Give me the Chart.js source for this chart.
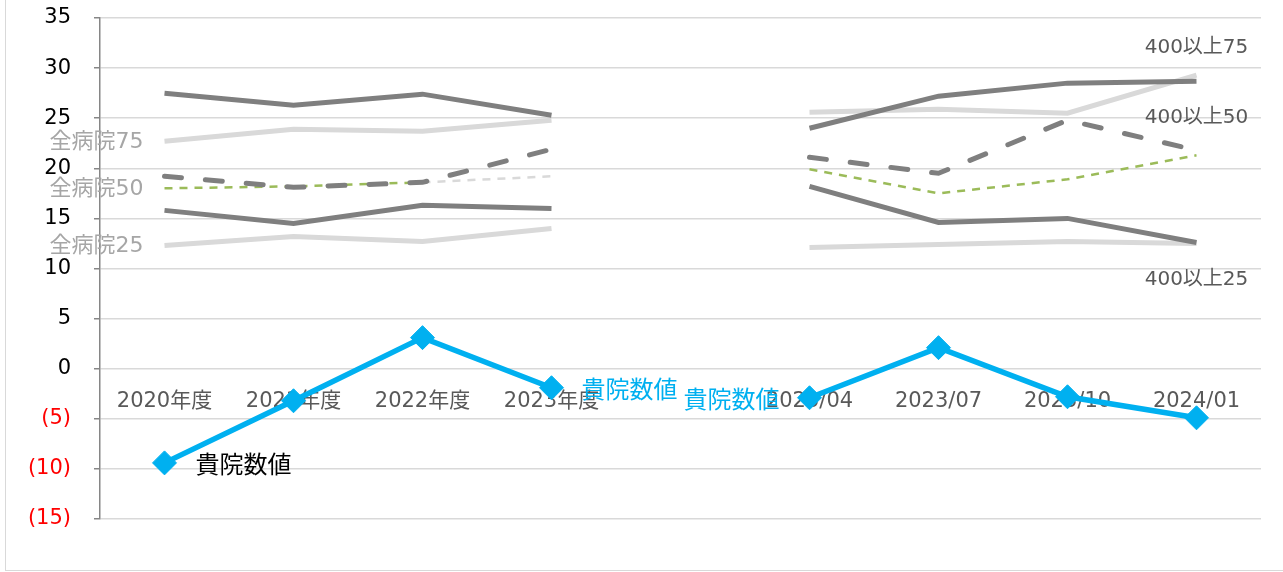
<!DOCTYPE html>
<html>
<head>
<meta charset="utf-8">
<script src="https://cdn.jsdelivr.net/npm/chart.js@4"></script>
<style>
  html, body { margin: 0; padding: 0; background: #fff; }
  #wrap { position: relative; width: 1283px; height: 572px; overflow: hidden; }
  #frame { position: absolute; left: 5px; top: -2px; width: 1300px; height: 573px; border: 1px solid #d9d9d9; box-sizing: border-box; }
  canvas { position: absolute; left: 0; top: 0; }
</style>
</head>
<body>
<div id="wrap">
  <div id="frame"></div>
  <canvas id="myChart" width="1283" height="572"></canvas>
</div>
<script>
// カテゴリ (空欄で年度と四半期を分ける)
const categories = ['2020年度', '2021年度', '2022年度', '2023年度', '', '2023/04', '2023/07', '2023/10', '2024/01'];
const yTicks = [35, 30, 25, 20, 15, 10, 5, 0, -5, -10, -15];

const kiin      = [-9.4, -3.2, 3.1, -1.9, null, -2.9, 2.1, -2.8, -4.9];
const over400_75 = [27.5, 26.3, 27.4, 25.3, null, 24.0, 27.2, 28.5, 28.7];
const all_75    = [22.7, 23.9, 23.7, 24.8, null, 25.6, 25.9, 25.5, 29.3];
const over400_50 = [19.2, 18.1, 18.6, 21.9, null, 21.1, 19.5, 24.8, 21.8];
const all_50    = [18.0, 18.2, 18.6, 19.2, null, 19.9, 17.5, 18.9, 21.3];
const over400_25 = [15.8, 14.5, 16.3, 16.0, null, 18.2, 14.6, 15.0, 12.6];
const all_25    = [12.3, 13.2, 12.7, 14.0, null, 12.1, 12.4, 12.7, 12.5];

const DARK = '#7f7f7f';
const LIGHT = '#d9d9d9';
const BLUE = '#00b0f0';
const GREEN = '#9bbb59';

// 系列名ラベル (データ点の横に置く)
const seriesLabels = [
  { ds: 0, idx: 0, text: '貴院数値', color: '#000', font: '24px "Noto Sans CJK JP"', dx: 31, dy: 1, align: 'left' },
  { ds: 0, idx: 3, text: '貴院数値', color: BLUE, font: '24px "Noto Sans CJK JP"', dx: 30, dy: 1, align: 'left' },
  { ds: 0, idx: 5, text: '貴院数値', color: BLUE, font: '24px "Noto Sans CJK JP"', dx: -30, dy: 1, align: 'right' },
  { ds: 2, idx: 0, text: '全病院75', color: '#a6a6a6', font: '22px "DejaVu Sans", "Noto Sans CJK JP"', dx: -21, dy: 1, align: 'right' },
  { ds: 4, idx: 0, text: '全病院50', color: '#a6a6a6', font: '22px "DejaVu Sans", "Noto Sans CJK JP"', dx: -21, dy: 1, align: 'right' },
  { ds: 6, idx: 0, text: '全病院25', color: '#a6a6a6', font: '22px "DejaVu Sans", "Noto Sans CJK JP"', dx: -21, dy: 1, align: 'right' },
  { ds: 1, idx: 8, text: '400以上75', color: '#595959', font: '20px "DejaVu Sans", "Noto Sans CJK JP"', dx: 0, dy: -33, align: 'center' },
  { ds: 3, idx: 8, text: '400以上50', color: '#595959', font: '20px "DejaVu Sans", "Noto Sans CJK JP"', dx: 0, dy: -32, align: 'center' },
  { ds: 5, idx: 8, text: '400以上25', color: '#595959', font: '20px "DejaVu Sans", "Noto Sans CJK JP"', dx: 0, dy: 37, align: 'center' }
];

const labelPlugin = {
  id: 'seriesLabels',
  afterDatasetsDraw(chart) {
    const ctx = chart.ctx;
    ctx.save();
    ctx.textBaseline = 'middle';
    seriesLabels.forEach(l => {
      const pt = chart.getDatasetMeta(l.ds).data[l.idx];
      ctx.font = l.font;
      ctx.fillStyle = l.color;
      ctx.textAlign = l.align;
      ctx.fillText(l.text, pt.x + l.dx, pt.y + l.dy);
    });
    ctx.restore();
  }
};

function line(label, data, color, width, extra) {
  return Object.assign({
    label: label,
    data: data,
    borderColor: color,
    backgroundColor: color,
    borderWidth: width,
    pointRadius: 0,
    pointHoverRadius: 0,
    tension: 0,
    spanGaps: false,
    fill: false
  }, extra || {});
}

const ctx = document.getElementById('myChart').getContext('2d');
new Chart(ctx, {
  type: 'line',
  data: {
    labels: categories,
    datasets: [
      line('貴院数値', kiin, BLUE, 5.5, { pointRadius: 12, pointStyle: 'rectRot', pointBorderWidth: 1, order: 0 }),
      line('400以上75', over400_75, DARK, 5, { order: 3 }),
      line('全病院75', all_75, LIGHT, 5, { order: 6 }),
      line('400以上50', over400_50, DARK, 5, { borderDash: [17, 24], borderCapStyle: 'round', order: 2 }),
      line('全病院50', all_50, GREEN, 2.5, {
        borderDash: [8, 7],
        order: 5,
        segment: { borderColor: c => (c.p1DataIndex === 3 ? LIGHT : undefined) }
      }),
      line('400以上25', over400_25, DARK, 5, { order: 4 }),
      line('全病院25', all_25, LIGHT, 5, { order: 7 })
    ]
  },
  options: {
    responsive: false,
    animation: false,
    layout: { padding: { left: 0, right: 22, top: 18, bottom: 53 } },
    plugins: {
      legend: { display: false },
      tooltip: { enabled: false }
    },
    scales: {
      x: {
        position: { y: 0 },
        offset: true,
        grid: { display: false },
        border: { display: false },
        ticks: {
          padding: 12,
          maxRotation: 0,
          autoSkip: false,
          color: '#595959',
          font: { family: '"DejaVu Sans", "Noto Sans CJK JP"', size: 21 }
        }
      },
      y: {
        min: -15,
        max: 35,
        afterFit: s => { s.width = 100; s.paddingTop = 0; s.paddingBottom = 0; },
        afterBuildTicks: s => { s.ticks = yTicks.map(v => ({ value: v })); },
        grid: { color: LIGHT, lineWidth: 1.5, tickLength: 6, tickColor: '#868686' },
        border: { color: '#868686', width: 1.5 },
        ticks: {
          padding: 23,
          color: c => (c.tick.value < 0 ? '#ff0000' : '#000'),
          font: { family: '"DejaVu Sans"', size: 21 },
          callback: v => (v < 0 ? '(' + Math.abs(v) + ')' : String(v))
        }
      }
    }
  },
  plugins: [labelPlugin]
});
</script>
</body>
</html>
